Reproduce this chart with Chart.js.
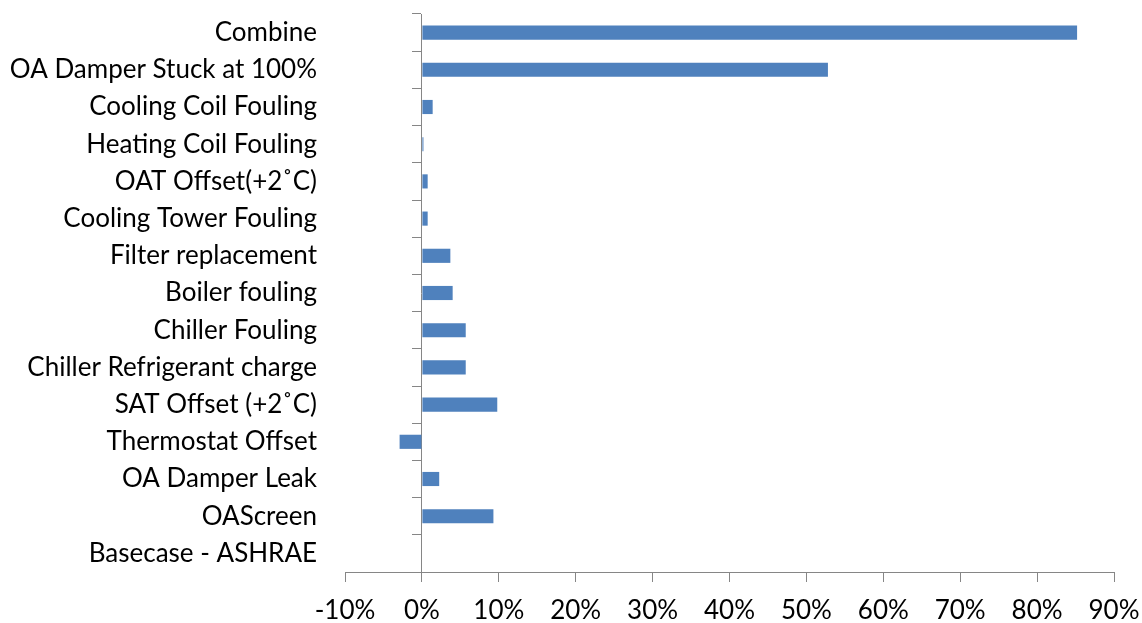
<!DOCTYPE html>
<html>
<head>
<meta charset="utf-8">
<script src="https://cdn.jsdelivr.net/npm/chart.js@4/dist/chart.umd.min.js"></script>
<style>
  html, body { margin: 0; padding: 0; background: #ffffff; }
  #wrap { width: 1142px; height: 623px; position: relative; }
</style>
</head>
<body>
<div id="wrap"><canvas id="chart"></canvas></div>
<script>
// Fault scenarios, top to bottom
const categories = [
  'Combine',
  'OA Damper Stuck at 100%',
  'Cooling Coil Fouling',
  'Heating Coil Fouling',
  'OAT Offset(+2˚C)',
  'Cooling Tower Fouling',
  'Filter replacement',
  'Boiler fouling',
  'Chiller Fouling',
  'Chiller Refrigerant charge',
  'SAT Offset (+2˚C)',
  'Thermostat Offset',
  'OA Damper Leak',
  'OAScreen',
  'Basecase - ASHRAE'
];

// Change relative to the base case, in percent
const changePct = [85.2, 52.8, 1.4, 0.2, 0.75, 0.75, 3.7, 4.0, 5.7, 5.7, 9.8, -2.9, 2.25, 9.3, 0];

// Value axis range and step, in percent
const xMin = -10;
const xMax = 90;
const xStep = 10;

const axisGrey = '#868686';
const labelFont = { family: 'Lato, "Open Sans", sans-serif', size: 26 };

new Chart(document.getElementById('chart'), {
  type: 'bar',
  data: {
    labels: categories,
    datasets: [{
      data: changePct,
      backgroundColor: '#4F81BD',
      borderWidth: 0,
      categoryPercentage: 1,
      barPercentage: 0.38
    }]
  },
  options: {
    indexAxis: 'y',
    responsive: true,
    maintainAspectRatio: false,
    animation: false,
    layout: { padding: { top: 14, right: 28, bottom: 0, left: 0 } },
    plugins: { legend: { display: false }, tooltip: { enabled: false } },
    scales: {
      x: {
        type: 'linear',
        position: 'bottom',
        min: xMin,
        max: xMax,
        ticks: {
          stepSize: xStep,
          color: '#000000',
          font: labelFont,
          padding: 13,
          maxRotation: 0,
          callback: v => v + '%'
        },
        grid: { drawOnChartArea: false, drawTicks: true, tickLength: 10, color: axisGrey, lineWidth: 1 },
        border: { display: true, color: axisGrey, width: 1 },
        afterFit(scale) {
          scale.height = 51;
          scale.paddingLeft = 0;
          scale.paddingRight = 0;
        }
      },
      // category names on the left edge
      y: {
        type: 'category',
        position: 'left',
        offset: true,
        ticks: { color: '#000000', font: labelFont, padding: 28, autoSkip: false },
        grid: { display: false, drawTicks: false },
        border: { display: false },
        afterFit(scale) {
          scale.width = 345;
          scale.paddingTop = 0;
          scale.paddingBottom = 0;
        }
      },
      // vertical axis line with its tick marks, placed at 0%
      y0: {
        type: 'category',
        position: { x: 0 },
        offset: true,
        ticks: { display: false },
        grid: { offset: true, drawOnChartArea: false, drawTicks: true, tickLength: 9, color: axisGrey, lineWidth: 1 },
        border: { display: true, color: axisGrey, width: 1 },
        afterFit(scale) {
          scale.width = 0;
          scale.paddingTop = 0;
          scale.paddingBottom = 0;
        }
      }
    }
  }
});
</script>
</body>
</html>
